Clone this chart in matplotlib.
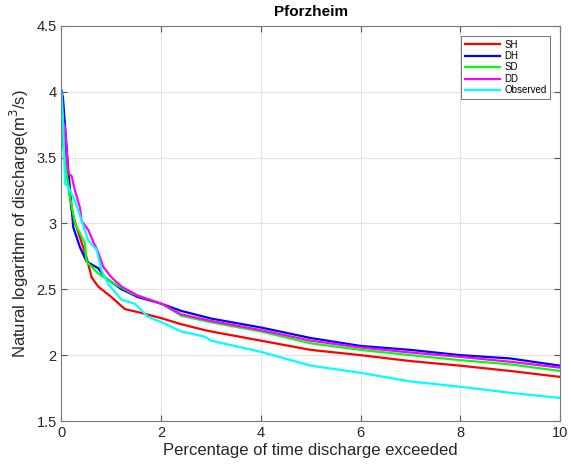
import matplotlib
matplotlib.use("Agg")
import matplotlib.pyplot as plt

plt.rcParams['font.family'] = ['Liberation Sans', 'DejaVu Sans']

# Data (percentage exceeded vs ln(discharge))
sh_x = [0.0, 0.03, 0.104, 0.204, 0.304, 0.504, 0.605, 0.738, 1.005, 1.27, 1.607, 2.008, 2.4, 2.876, 3.0, 4.0, 5.0, 6.0, 7.0, 8.0, 9.0, 10.0]
sh_y = [3.86, 3.75, 3.40, 3.10, 2.97, 2.74, 2.59, 2.52, 2.44, 2.35, 2.32, 2.28, 2.235, 2.19, 2.18, 2.11, 2.04, 2.00, 1.955, 1.92, 1.88, 1.835]

dh_x = [0.0, 0.03, 0.137, 0.237, 0.37, 0.504, 0.738, 0.872, 1.206, 1.54, 2.008, 2.4, 2.876, 3.0, 4.0, 5.0, 6.0, 7.0, 8.0, 9.0, 10.0]
dh_y = [4.01, 3.95, 3.40, 2.97, 2.82, 2.71, 2.66, 2.59, 2.50, 2.44, 2.39, 2.336, 2.29, 2.278, 2.21, 2.13, 2.07, 2.04, 2.00, 1.975, 1.92]

sd_x = [0.0, 0.03, 0.104, 0.17, 0.27, 0.47, 0.504, 0.738, 1.072, 1.406, 2.008, 2.4, 2.876, 3.0, 4.0, 5.0, 6.0, 7.0, 8.0, 9.0, 10.0]
sd_y = [3.68, 3.60, 3.38, 3.20, 3.00, 2.85, 2.71, 2.62, 2.54, 2.47, 2.39, 2.30, 2.26, 2.25, 2.18, 2.09, 2.04, 2.00, 1.962, 1.93, 1.88]

dd_x = [0.0, 0.07, 0.137, 0.204, 0.27, 0.37, 0.404, 0.538, 0.638, 0.738, 0.838, 1.005, 1.206, 1.54, 2.008, 2.4, 2.876, 3.0, 4.0, 5.0, 6.0, 7.0, 8.0, 9.0, 10.0]
dd_y = [3.80, 3.73, 3.38, 3.36, 3.25, 3.12, 3.02, 2.95, 2.86, 2.78, 2.67, 2.59, 2.52, 2.45, 2.39, 2.31, 2.27, 2.26, 2.19, 2.11, 2.058, 2.02, 1.987, 1.95, 1.905]

obs_x = [0.0, 0.03, 0.07, 0.137, 0.27, 0.404, 0.538, 0.705, 0.805, 0.938, 1.206, 1.473, 1.74, 2.008, 2.4, 2.876, 3.0, 4.0, 5.0, 6.0, 7.0, 8.0, 9.0, 10.0]
obs_y = [4.00, 3.80, 3.30, 3.28, 3.17, 3.02, 2.87, 2.80, 2.64, 2.54, 2.42, 2.39, 2.29, 2.25, 2.18, 2.14, 2.11, 2.025, 1.92, 1.866, 1.80, 1.76, 1.714, 1.675]

labels = ['SH', 'DH', 'SD', 'DD', 'Observed']
colors = ['#ff0000', '#0000ff', '#00ff00', '#ff00ff', '#00ffff']

fig = plt.figure(figsize=(5.71, 4.67), dpi=100)
ax = fig.add_axes([0.1077, 0.0985, 0.873, 0.846])

for xs, ys, lab, c in zip([sh_x, dh_x, sd_x, dd_x, obs_x],
                          [sh_y, dh_y, sd_y, dd_y, obs_y], labels, colors):
    ax.plot(xs, ys, color=c, lw=1.6, label=lab)

ax.set_xlim(0, 10)
ax.set_ylim(1.5, 4.5)
ax.set_xticks([0, 2, 4, 6, 8, 10])
ax.set_yticks([1.5, 2, 2.5, 3, 3.5, 4, 4.5])
ax.set_yticklabels(['1.5', '2', '2.5', '3', '3.5', '4', '4.5'])
ax.grid(True, color='#e3e3e3', lw=0.8)
ax.set_axisbelow(True)
ax.tick_params(direction='in', top=True, right=True, length=4, width=0.8,
               color='#555555', labelsize=10.5, labelcolor='#262626')
for s in ax.spines.values():
    s.set_color('#7a7a7a')
    s.set_linewidth(0.8)

ax.set_title('Pforzheim', fontsize=11, fontweight='bold', pad=7)
ax.set_xlabel('Percentage of time discharge exceeded', fontsize=12, color='#262626', labelpad=2)
ax.set_ylabel('Natural logarithm of discharge(m$^3$/s)', fontsize=12, color='#262626', labelpad=4)

leg = ax.legend(loc='upper right', fontsize=7, frameon=True, fancybox=False,
                edgecolor='#333333', handlelength=3.6, borderaxespad=1.0,
                labelspacing=0.15, handletextpad=0.4, borderpad=0.4)
leg.get_frame().set_linewidth(0.6)

fig.savefig('out.png', dpi=100)
